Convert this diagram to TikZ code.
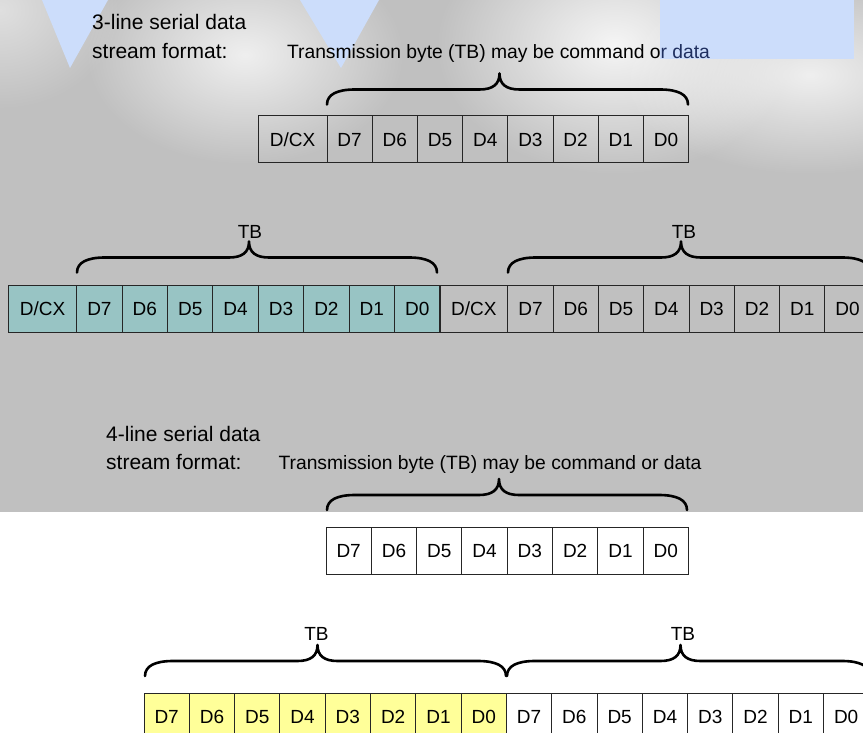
\documentclass[tikz,border=0pt]{standalone}
\usepackage{fontspec}
\setmainfont{Liberation Sans}
\usetikzlibrary{fadings}
\definecolor{bggray}{HTML}{C0C0C0}
\definecolor{tealfill}{HTML}{98C4C4}
\definecolor{yelfill}{HTML}{FFFF99}
\definecolor{wblue}{HTML}{CCDDFB}
\definecolor{txtnavy}{HTML}{1F2F5F}
\tikzfading[name=glow, inner color=transparent!0, outer color=transparent!100]
\newcommand\mybrace[3]{%
  \pgfmathsetmacro\bxa{#1}\pgfmathsetmacro\bxb{#2}\pgfmathsetmacro\bxm{(#1+#2)/2-8}%
  \pgfmathsetmacro\byb{#3}\pgfmathsetmacro\byh{#3-15}\pgfmathsetmacro\byt{#3-31}%
  \draw[bracestyle] (\bxa,\byb) .. controls (\bxa,\byb-10) and (\bxa+10,\byh) .. (\bxa+28,\byh)
    -- (\bxm-20,\byh) .. controls (\bxm-7,\byh) and (\bxm,\byh-5) .. (\bxm,\byt)
    .. controls (\bxm,\byh-5) and (\bxm+7,\byh) .. (\bxm+20,\byh)
    -- (\bxb-28,\byh) .. controls (\bxb-10,\byh) and (\bxb,\byb-10) .. (\bxb,\byb);}
\begin{document}
\begin{tikzpicture}[x=1pt,y=-1pt,
  cell/.style={draw=black!85, line width=1pt, minimum height=47pt, inner sep=0pt, outer sep=0pt, anchor=west, text height=13.6pt, text depth=0pt, font=\fontsize{19}{21}\selectfont},
  bit/.style={cell, minimum width=45.3pt},
  dcx/.style={cell, minimum width=68.5pt},
  bracestyle/.style={line width=2.6pt, line cap=round, line join=round},
  lbl/.style={font=\fontsize{21}{24}\selectfont, anchor=base west, inner sep=0pt},
  tbtext/.style={font=\fontsize{19.3}{22}\selectfont, anchor=base, inner sep=0pt},
  tblab/.style={font=\fontsize{19}{21}\selectfont, anchor=base, inner sep=0pt}]
\useasboundingbox (0,0) rectangle (863,733);
\clip (0,0) rectangle (863,733);
% background
\fill[white] (0,0) rectangle (863,733);
\fill[bggray] (0,0) rectangle (863,512);
\fill[white, opacity=0.75, path fading=glow] (245,55) ellipse [x radius=160pt, y radius=110pt];
\fill[white, opacity=0.85, path fading=glow] (615,45) ellipse [x radius=180pt, y radius=130pt];
\fill[white, opacity=0.75, path fading=glow] (810,75) ellipse [x radius=190pt, y radius=100pt];
\fill[white, opacity=0.5, path fading=glow] (0,10) ellipse [x radius=120pt, y radius=100pt];
\fill[wblue] (42,0) -- (108,0) -- (70,68) -- cycle;
\fill[wblue] (300,0) -- (379,0) -- (341,68) -- cycle;
\fill[wblue] (660,0) rectangle (854,59);
% texts
\node[lbl] (t3a) at (92,30) {3-line serial data};
\node[lbl] (t3b) at (92,59) {stream format:};
\node[tbtext] (tx1) at (498.5,59) {Transmission byte (TB) may be command o\textcolor{txtnavy}{r data}};
\node[lbl] (t4a) at (106,441.5) {4-line serial data};
\node[lbl] (t4b) at (106,469.5) {stream format:};
\node[tbtext] (tx3) at (490,469.5) {Transmission byte (TB) may be command or data};
% row 1
\node[dcx, minimum width=69pt] (r1x) at (258,139.5) {D/CX};
\foreach \b [count=\i from 0] in {7,6,5,4,3,2,1,0}
  \node[bit, minimum width=45.2pt] (r1b\b) at (327+45.2*\i,139.5) {D\b};
\mybrace{327}{688}{104.5}
% row 2
\node[dcx, fill=tealfill, minimum width=68.4pt] (r2x) at (8.3,308.5) {D/CX};
\foreach \b [count=\i from 0] in {7,6,5,4,3,2,1,0}
  \node[bit, fill=tealfill, minimum width=45.4pt] (r2b\b) at (76.7+45.4*\i,308.5) {D\b};
\node[dcx, minimum width=67.8pt] (r2y) at (440,308.5) {D/CX};
\foreach \b [count=\i from 0] in {7,6,5,4,3,2,1,0}
  \node[bit] (r2c\b) at (507.8+45.3*\i,308.5) {D\b};
\mybrace{77}{437}{272.5}
\mybrace{508}{870}{272.5}
\node[tblab] (tb2a) at (250,238) {TB};
\node[tblab] (tb2b) at (684,238) {TB};
% row 3
\foreach \b [count=\i from 0] in {7,6,5,4,3,2,1,0}
  \node[bit] (r3b\b) at (326+45.3*\i,550.5) {D\b};
\mybrace{327}{687}{510}
% row 4
\foreach \b [count=\i from 0] in {7,6,5,4,3,2,1,0}
  \node[bit, fill=yelfill] (r4b\b) at (144+45.3*\i,716.5) {D\b};
\foreach \b [count=\i from 0] in {7,6,5,4,3,2,1,0}
  \node[bit] (r4c\b) at (506.4+45.3*\i,716.5) {D\b};
\mybrace{145}{506}{676}
\mybrace{507}{870}{676}
\node[tblab] (tb4a) at (316.5,640) {TB};
\node[tblab] (tb4b) at (683,640) {TB};
\end{tikzpicture}
\end{document}
